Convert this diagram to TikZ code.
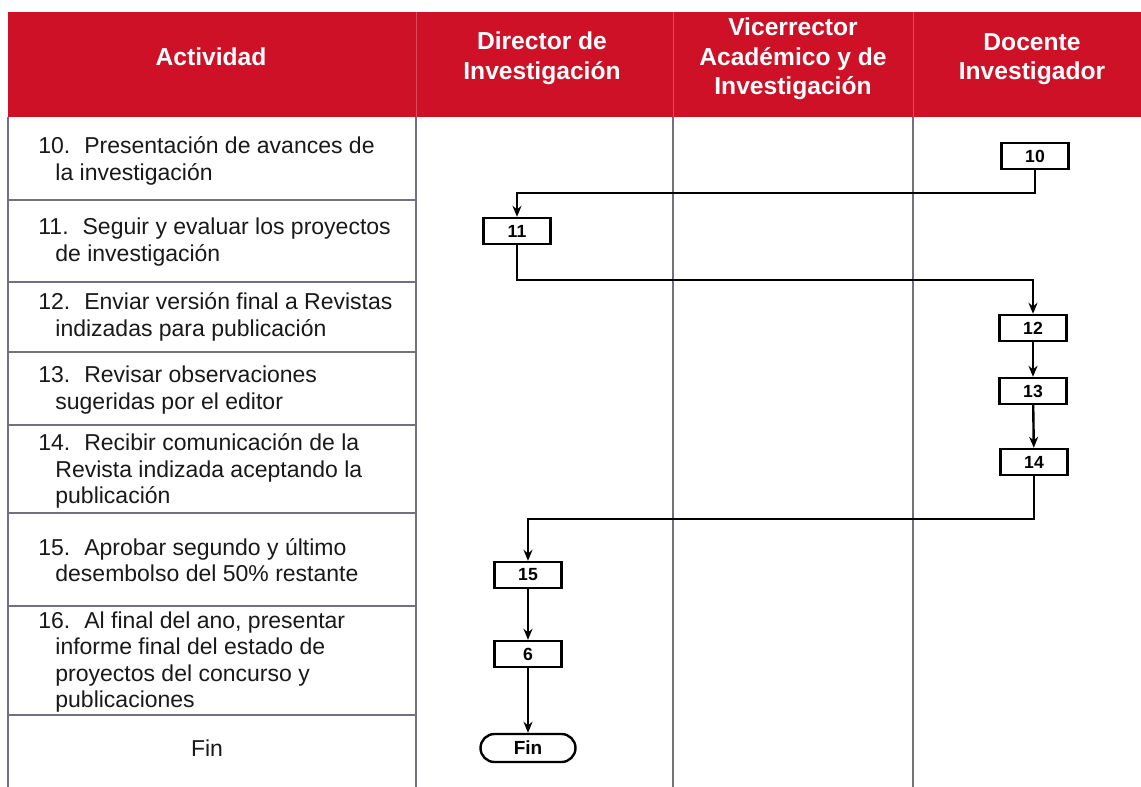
\documentclass[tikz,border=0pt]{standalone}
\usepackage{fontspec}
\setmainfont{Liberation Sans}
\usetikzlibrary{arrows.meta}
\definecolor{cabecera}{RGB}{206,17,38}
\definecolor{linea}{RGB}{112,114,128}
\tikzset{
  paso/.style={draw=black, line width=1.2pt, fill=white, minimum width=33.5pt, minimum height=13pt, inner sep=0pt, font=\bfseries\fontsize{8.8}{10}\selectfont},
  fin/.style={paso, rounded corners=7pt, minimum width=47.5pt, minimum height=14pt, font=\bfseries\fontsize{9.5}{10}\selectfont},
  flujo/.style={line width=1.2pt, -{Stealth[length=5.5pt,width=4.5pt]}},
  actividad/.style={anchor=west, align=left, inner sep=0pt, text=black!90, font=\fontsize{11.5}{13.2}\selectfont},
  titulo/.style={align=center, inner sep=0pt, text=white, font=\bfseries\fontsize{12.3}{14.7}\selectfont},
}
\begin{document}
\begin{tikzpicture}[x=0.5pt,y=0.5pt,yscale=-1,xscale=1]
\useasboundingbox (0,0) rectangle (1141,787);
\fill[white] (0,0) rectangle (1141,787);

%Header
\fill[cabecera] (8,12) rectangle (1141,117);
\draw[cabecera!75!white, line width=0.4pt] (416,12) -- (416,117) (673,12) -- (673,117) (913,12) -- (913,117);

% Text Node
\node[titulo] (tact) at (211,57) {Actividad};
% Text Node
\node[titulo] (tdir) at (542,58) {Director de\\Investigación};
% Text Node
\node[titulo] (tvic) at (793,59) {Vicerrector\\Académico y de\\Investigación};
% Text Node
\node[titulo] (tdoc) at (1032,59) {Docente\\Investigador};

%Table lines
\draw[linea, line width=0.7pt] (8,117) -- (8,787) (416,117) -- (416,787) (673,117) -- (673,787) (913,117) -- (913,787);
\draw[linea, line width=0.7pt] (8,200) -- (416,200) (8,282) -- (416,282) (8,352) -- (416,352) (8,425) -- (416,425) (8,513) -- (416,513) (8,606) -- (416,606) (8,715) -- (416,715);

% Text Node
\node[actividad] (a10) at (38,161) {10.\hspace{7pt}Presentación de avances de\\\hspace*{8.5pt}la investigación};
% Text Node
\node[actividad] (a11) at (38,242) {11.\hspace{7pt}Seguir y evaluar los proyectos\\\hspace*{8.5pt}de investigación};
% Text Node
\node[actividad] (a12) at (38,317) {12.\hspace{7pt}Enviar versión final a Revistas\\\hspace*{8.5pt}indizadas para publicación};
% Text Node
\node[actividad] (a13) at (38,390) {13.\hspace{7pt}Revisar observaciones\\\hspace*{8.5pt}sugeridas por el editor};
% Text Node
\node[actividad] (a14) at (38,471) {14.\hspace{7pt}Recibir comunicación de la\\\hspace*{8.5pt}Revista indizada aceptando la\\\hspace*{8.5pt}publicación};
% Text Node
\node[actividad] (a15) at (38,560) {15.\hspace{7pt}Aprobar segundo y último\\\hspace*{8.5pt}desembolso del 50\% restante};
% Text Node
\node[actividad] (a16) at (38,662) {16.\hspace{7pt}Al final del ano, presentar\\\hspace*{8.5pt}informe final del estado de\\\hspace*{8.5pt}proyectos del concurso y\\\hspace*{8.5pt}publicaciones};
% Text Node
\node[actividad, anchor=center] (afin) at (207,748) {Fin};

%Flowchart: Process
\node[paso] (p10) at (1035,156) {10};
\node[paso] (p11) at (517,231) {11};
\node[paso] (p12) at (1033,328) {12};
\node[paso] (p13) at (1033,391) {13};
\node[paso] (p14) at (1034,462) {14};
\node[paso] (p15) at (528,575) {15};
\node[paso] (p6) at (528,654) {6};
%Flowchart: Terminator
\node[fin] (pfin) at (528,748) {Fin};

%Straight Lines
\coordinate (q1) at (0,193);
\coordinate (q2) at (0,280);
\coordinate (q3) at (0,519);
\draw[flujo] (p10.south) -- (p10.south |- q1) -- (p11.north |- q1) -- (p11.north);
\draw[flujo] (p11.south) -- (p11.south |- q2) -- (p12.north |- q2) -- (p12.north);
\draw[flujo] (p12) -- (p13);
\draw[flujo] (p13) -- (p14);
\draw[flujo] (p14.south) -- (p14.south |- q3) -- (p15.north |- q3) -- (p15.north);
\draw[flujo] (p15) -- (p6);
\draw[flujo] (p6) -- (pfin);

\end{tikzpicture}
\end{document}
